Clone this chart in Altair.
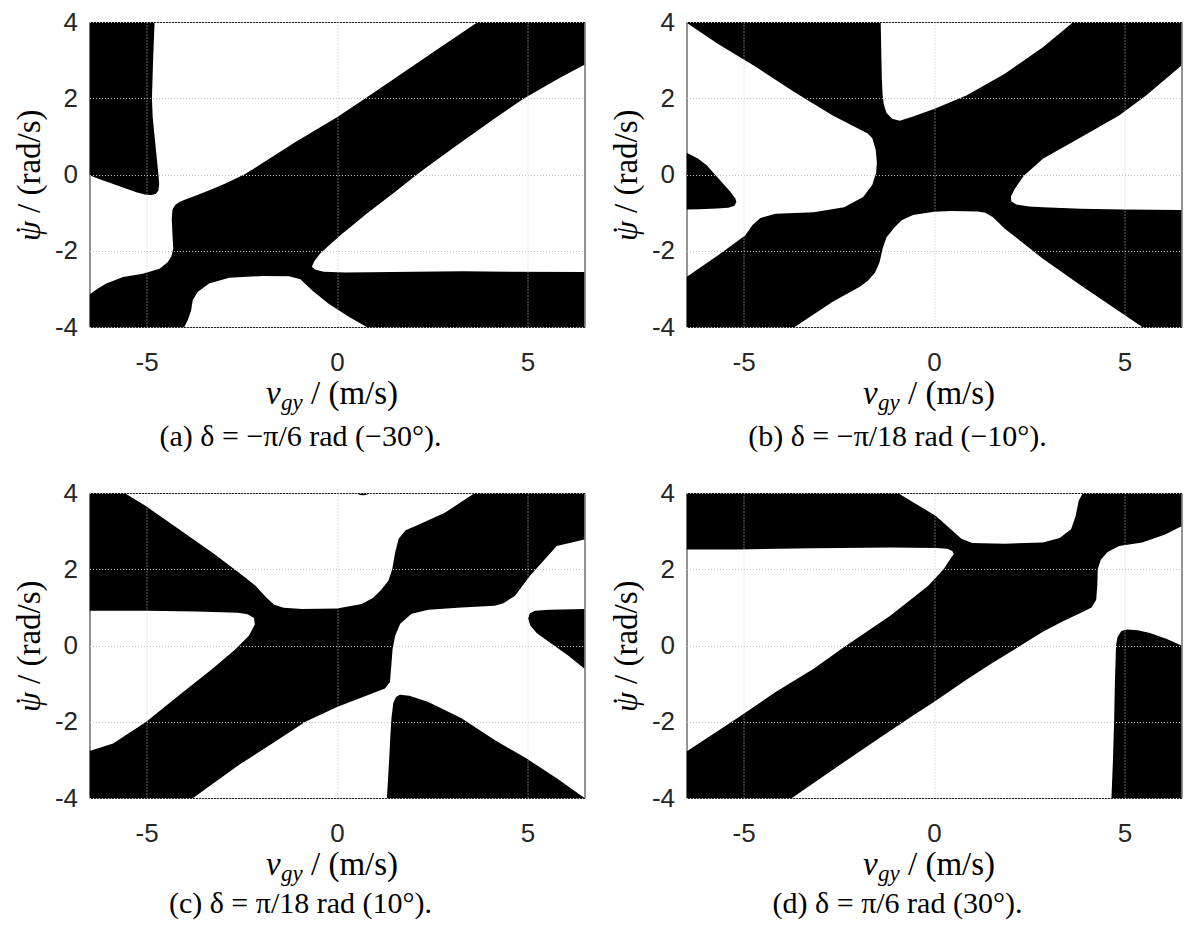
import altair as alt
import pandas as pd

# ---------------- data: black regions, (v_gy [m/s], psi_dot [rad/s]) outline vertices ----------------
A1 = [(-6.5, 4.0), (-4.79, 4.0), (-4.83, 3.0), (-4.86, 2.0), (-4.84, 1.5), (-4.79, 1.0), (-4.74, 0.5),
      (-4.69, 0.0), (-4.67, -0.25), (-4.69, -0.42), (-4.76, -0.51), (-4.88, -0.54), (-5.02, -0.53),
      (-5.25, -0.47), (-5.55, -0.37), (-5.95, -0.22), (-6.25, -0.12), (-6.5, -0.02)]
A2 = [(-6.5, -3.15), (-6.5, -4.0), (-4.01, -4.0), (-3.92, -3.82), (-3.83, -3.56), (-3.79, -3.30),
      (-3.66, -3.08), (-3.36, -2.86), (-2.83, -2.71), (-1.96, -2.66), (-1.26, -2.67), (-0.96, -2.75),
      (-0.65, -3.04), (-0.22, -3.39), (0.31, -3.73), (0.78, -4.0), (6.5, -4.0), (6.5, -2.56),
      (3.27, -2.54), (0.22, -2.57), (-0.35, -2.55), (-0.58, -2.49), (-0.66, -2.42), (-0.60, -2.28),
      (-0.44, -2.07), (-0.22, -1.87), (0.13, -1.56), (0.81, -1.0), (1.53, -0.45), (2.10, 0.0),
      (2.40, 0.22), (3.27, 0.85), (4.14, 1.47), (4.92, 2.0), (5.88, 2.55), (6.5, 2.88), (6.5, 4.0),
      (3.70, 4.0), (2.60, 3.26), (1.53, 2.53), (0.70, 1.97), (0.0, 1.50), (-1.09, 0.85), (-1.80, 0.40),
      (-2.40, 0.02), (-2.90, -0.22), (-3.27, -0.38), (-3.70, -0.55), (-4.0, -0.66), (-4.14, -0.72),
      (-4.25, -0.80), (-4.32, -0.92), (-4.34, -1.16), (-4.32, -1.60), (-4.30, -1.95), (-4.35, -2.15),
      (-4.45, -2.30), (-4.66, -2.47), (-5.10, -2.60), (-5.62, -2.69), (-6.06, -2.86), (-6.30, -3.0)]

B1 = [(-6.5, 0.57), (-6.2, 0.42), (-5.97, 0.24), (-5.57, -0.2), (-5.35, -0.45), (-5.22, -0.62),
      (-5.19, -0.72), (-5.24, -0.82), (-5.40, -0.87), (-5.70, -0.89), (-6.17, -0.91), (-6.5, -0.92)]
B2 = [(-6.5, 4.0), (-1.40, 4.0), (-1.38, 3.0), (-1.37, 2.5), (-1.35, 2.1), (-1.32, 1.85), (-1.25, 1.62),
      (-1.10, 1.46), (-0.90, 1.41), (-0.55, 1.52), (0.0, 1.72), (0.85, 2.07), (1.86, 2.64), (2.86, 3.34),
      (3.66, 4.0), (6.5, 4.0), (6.5, 2.86), (5.57, 2.07), (4.86, 1.55), (3.86, 0.98), (2.86, 0.41),
      (2.36, -0.03), (2.12, -0.38), (2.02, -0.58), (2.03, -0.70), (2.16, -0.79), (2.50, -0.84),
      (2.86, -0.86), (3.86, -0.90), (4.96, -0.92), (6.5, -0.93), (6.5, -4.0), (5.47, -4.0),
      (3.86, -2.91), (2.86, -2.21), (1.86, -1.42), (1.55, -1.12), (1.35, -1.0), (1.15, -0.97),
      (0.45, -0.96), (0.0, -0.98), (-0.55, -1.06), (-0.85, -1.20), (-1.05, -1.40), (-1.25, -1.65),
      (-1.35, -1.95), (-1.43, -2.30), (-1.55, -2.58), (-1.75, -2.80), (-1.96, -2.95), (-2.66, -3.34),
      (-3.66, -4.0), (-6.5, -4.0), (-6.5, -2.69), (-5.67, -2.12), (-4.96, -1.60), (-4.76, -1.32),
      (-4.56, -1.14), (-4.16, -1.03), (-3.16, -0.99), (-2.36, -0.86), (-1.86, -0.59), (-1.62, -0.27),
      (-1.52, 0.05), (-1.50, 0.30), (-1.53, 0.65), (-1.62, 0.95), (-1.75, 1.08), (-2.06, 1.24),
      (-2.66, 1.55), (-3.66, 2.16), (-4.66, 2.81), (-5.67, 3.42), (-6.5, 3.98)]

C1 = [(-6.5, 4.0), (-5.58, 4.0), (-5.01, 3.65), (-4.14, 3.04), (-3.27, 2.43), (-2.57, 1.91), (-2.14, 1.57),
      (-1.85, 1.25), (-1.65, 1.07), (-1.40, 0.99), (-0.92, 0.96), (0.0, 0.97), (0.65, 1.09), (0.95, 1.25),
      (1.15, 1.45), (1.35, 1.70), (1.45, 2.0), (1.53, 2.45), (1.62, 2.80), (1.80, 3.02), (2.05, 3.13),
      (2.83, 3.48), (3.62, 4.0), (6.5, 4.0), (6.5, 2.78), (5.77, 2.61), (5.07, 1.83), (4.67, 1.30),
      (4.37, 1.11), (4.14, 1.04), (3.27, 1.0), (2.40, 0.94), (1.96, 0.83), (1.66, 0.57), (1.53, 0.26),
      (1.46, -0.09), (1.42, -0.61), (1.39, -0.96), (1.26, -1.13), (0.92, -1.26), (0.0, -1.61),
      (-0.83, -2.0), (-1.70, -2.57), (-2.57, -3.13), (-3.78, -4.0), (-6.5, -4.0), (-6.5, -2.77),
      (-5.88, -2.57), (-5.01, -2.0), (-4.14, -1.30), (-3.27, -0.61), (-2.66, -0.09), (-2.31, 0.26),
      (-2.16, 0.55), (-2.18, 0.72), (-2.35, 0.82), (-2.60, 0.86), (-3.70, 0.89), (-5.01, 0.91), (-6.5, 0.91)]
C2 = [(1.31, -4.0), (1.34, -3.5), (1.37, -3.0), (1.40, -2.4), (1.43, -1.9), (1.48, -1.5), (1.55, -1.35),
      (1.65, -1.29), (1.90, -1.32), (2.40, -1.48), (3.27, -1.91), (4.14, -2.48), (4.97, -2.96),
      (5.80, -3.50), (6.5, -4.0)]
C3 = [(6.5, 0.96), (5.57, 0.94), (5.20, 0.91), (5.06, 0.84), (5.02, 0.70), (5.08, 0.52), (5.25, 0.32),
      (5.57, 0.09), (6.07, -0.26), (6.5, -0.61)]
C4 = [(0.52, 4.0), (0.60, 3.95), (0.70, 3.94), (0.80, 3.96), (0.86, 4.0)]

D1 = [(-6.5, 4.0), (-0.95, 4.0), (-0.45, 3.70), (0.05, 3.40), (0.45, 3.04), (0.72, 2.80), (1.0, 2.69),
      (1.86, 2.67), (2.86, 2.70), (3.30, 2.82), (3.60, 3.05), (3.72, 3.40), (3.80, 3.80), (3.91, 4.0),
      (6.5, 4.0), (6.5, 3.13), (6.07, 2.91), (5.47, 2.70), (4.86, 2.61), (4.56, 2.45), (4.38, 2.25),
      (4.30, 2.0), (4.29, 1.6), (4.26, 1.2), (4.14, 1.0), (3.86, 0.86), (3.36, 0.62), (2.86, 0.36),
      (2.36, 0.05), (1.5, -0.48), (0.85, -0.90), (0.0, -1.48), (-0.5, -1.80), (-1.5, -2.47),
      (-2.6, -3.22), (-3.73, -4.0), (-6.5, -4.0), (-6.5, -2.78), (-5.17, -1.91), (-4.16, -1.22),
      (-3.16, -0.61), (-2.36, -0.04), (-1.15, 0.78), (-0.15, 1.57), (0.25, 2.0), (0.45, 2.30),
      (0.52, 2.40), (0.48, 2.48), (0.35, 2.54), (0.05, 2.56), (-1.15, 2.57), (-3.16, 2.55),
      (-5.17, 2.52), (-6.5, 2.52)]
D2 = [(4.66, -4.0), (4.70, -3.0), (4.73, -2.0), (4.75, -1.0), (4.78, 0.0), (4.82, 0.22), (4.92, 0.38),
      (5.07, 0.42), (5.35, 0.40), (5.67, 0.33), (6.10, 0.18), (6.5, 0.0), (6.5, -4.0)]

CAPTIONS = ["(a) δ = −π/6 rad (−30°).", "(b) δ = −π/18 rad (−10°).",
            "(c) δ = π/18 rad (10°).", "(d) δ = π/6 rad (30°)."]
REGIONS = [[A1, A2], [B1, B2], [C1, C2, C3, C4], [D1, D2]]
X_TICKS = [-5, 0, 5]
Y_TICKS = [-4, -2, 0, 2, 4]
X_DOMAIN = [-6.5, 6.5]
Y_DOMAIN = [-4, 4]

W, H = 495, 305
SERIF = "Liberation Serif"
SANS = "Liberation Sans"


def txt(s, x, y, size, style="normal", align="left", angle=0):
    return alt.Chart(pd.DataFrame({"t": [s]})).mark_text(
        align=align, baseline="alphabetic", font=SERIF, fontSize=size,
        fontStyle=style, angle=angle, color="black"
    ).encode(text="t:N", x=alt.value(x), y=alt.value(y))


def make_panel(polys, caption, cap_offset):
    rows = []
    for k, poly in enumerate(polys):
        for i, (x, y) in enumerate(poly):
            rows.append({"poly": k, "i": i, "x": x, "y": y})
    df = pd.DataFrame(rows)
    shapes = alt.Chart(df).mark_line(
        filled=True, color="black", fill="black", interpolate="linear-closed", clip=True
    ).encode(
        x=alt.X("x:Q", scale=alt.Scale(domain=X_DOMAIN, nice=False, zero=False),
                axis=alt.Axis(values=X_TICKS, title=None, labelExpr="'' + datum.value",
                              labelPadding=22, zindex=1)),
        y=alt.Y("y:Q", scale=alt.Scale(domain=Y_DOMAIN, nice=False, zero=False),
                axis=alt.Axis(values=Y_TICKS, title=None, labelExpr="'' + datum.value",
                              labelPadding=12, zindex=1)),
        detail="poly:N",
        order="i:Q",
    )
    cx = W / 2
    texts = [
        txt("v", cx - 71, H + 77, 33, style="italic"),
        txt("gy", cx - 56, H + 83, 23, style="italic"),
        txt("/ (m/s)", cx - 26, H + 77, 33),
        txt("ψ", -50, 199, 32, style="italic", align="right", angle=270),
        txt("˙", -52, 208, 32, align="center", angle=270),
        txt("/ (rad/s)", -50, 191, 33, align="left", angle=270),
        txt(caption, 211, H + cap_offset, 30, align="center"),
    ]
    return alt.layer(shapes, *texts).properties(width=W, height=H)


CAP_OFFSETS = [119, 119, 115, 115]
panels = [make_panel(REGIONS[k], CAPTIONS[k], CAP_OFFSETS[k]) for k in range(4)]

chart = alt.concat(
    *panels, columns=2, spacing={"row": 166, "column": 102}, bounds="flush"
).properties(
    padding={"left": 2.5, "top": 0, "right": 0, "bottom": 0},
    background="white",
).configure_view(
    stroke="#262626", strokeWidth=1
).configure_axis(
    grid=True, gridColor="#c4c4c4", gridDash=[1, 2], gridWidth=1,
    domain=False, ticks=False,
    labelFont=SANS, labelFontSize=26, labelColor="#262626"
)

chart.save("out.html", embed_options={"renderer": "svg", "actions": False})
